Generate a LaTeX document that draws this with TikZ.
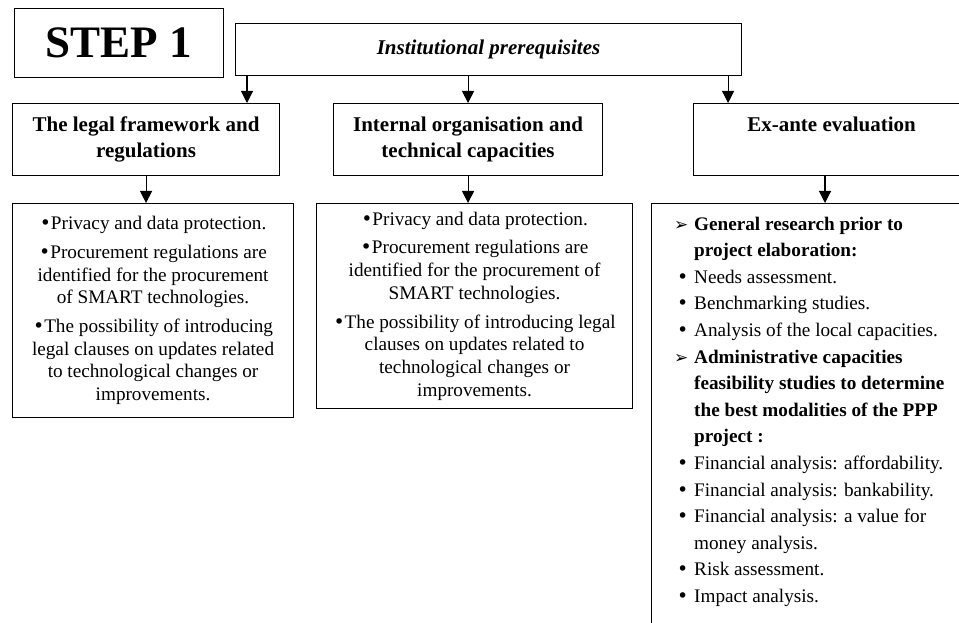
\documentclass[tikz,border=0pt]{standalone}
\usepackage{fontspec}
\setmainfont{Liberation Serif}
\newfontfamily\dingfont{DejaVu Sans}
\usetikzlibrary{arrows.meta}

% bullet and list markers
\newcommand\bul{{\dingfont\fontsize{19}{19}\selectfont •}}
\newcommand\exarrow{\makebox[19pt][l]{\hspace{-1pt}\smash{\raisebox{0pt}{\dingfont\fontsize{17}{17}\selectfont ➢}}}}
\newcommand\exdot{\makebox[19pt][l]{\hspace{2pt}\bul}}
\newcommand\exhang{\hspace*{19pt}}

\begin{document}
\begin{tikzpicture}[x=1pt,y=-1pt,
  box/.style={draw, line width=1.1pt, inner sep=0pt},
  head/.style={font=\fontsize{21}{26.7}\selectfont\bfseries, align=center},
  body/.style={font=\fontsize{19.2}{22.7}\selectfont, align=center},
  arr/.style={line width=1.1pt, -{Triangle[width=12pt,length=12pt]}},
]
\useasboundingbox (0,0) rectangle (959,623);

% title and root
\node[box, minimum width=209pt, minimum height=69pt, anchor=north west,
      font=\fontsize{45}{54}\selectfont\bfseries] (stepone) at (14,8) {STEP 1};
\node[box, minimum width=506pt, minimum height=52pt, anchor=north west,
      font=\fontsize{21}{26}\selectfont\bfseries\itshape] (inst) at (235,23) {Institutional prerequisites};

% second level
\node[box, head, minimum width=267pt, minimum height=72pt, anchor=north west] (legal) at (12,103)
  {The legal framework and\\regulations};
\node[box, head, minimum width=269pt, minimum height=72pt, anchor=north west] (intorg) at (333,103)
  {Internal organisation and\\technical capacities};
\node[box, head, minimum width=276pt, minimum height=72pt, anchor=north west] (exante) at (693,103)
  {Ex-ante evaluation\\\vphantom{g}};

% third level
\node[box, body, minimum width=281pt, minimum height=214pt, anchor=north west] (legaldet) at (12,203)
  {\bul Privacy and data protection.\\[6pt]
   \bul Procurement regulations are\\
   identified for the procurement\\
   of SMART technologies.\\[6pt]
   \bul The possibility of introducing\\
   legal clauses on updates related\\
   to technological changes or\\
   improvements.};
\node[box, body, minimum width=316pt, minimum height=205pt, anchor=north west] (intdet) at (316,203)
  {\bul Privacy and data protection.\\[6pt]
   \bul Procurement regulations are\\
   identified for the procurement of\\
   SMART technologies.\\[6pt]
   \bul The possibility of introducing legal\\
   clauses on updates related to\\
   technological changes or\\
   improvements.};
\node[box, minimum width=330pt, minimum height=440pt, anchor=north west] (exdet) at (651,203) {};
\node[anchor=north west, inner sep=0pt, align=left, font=\fontsize{19.2}{26.6}\selectfont]
  (exlist) at ([xshift=24pt,yshift=-13.5pt]exdet.north west)
  {\exarrow\textbf{General research prior to}\\
   \exhang\textbf{project elaboration:}\\
   \exdot Needs assessment.\\
   \exdot Benchmarking studies.\\
   \exdot Analysis of the local capacities.\\
   \exarrow\textbf{Administrative capacities}\\
   \exhang\textbf{feasibility studies to determine}\\
   \exhang\textbf{the best modalities of the PPP}\\
   \exhang\textbf{project :}\\
   \exdot Financial analysis: affordability.\\
   \exdot Financial analysis: bankability.\\
   \exdot Financial analysis: a value for\\
   \exhang money analysis.\\
   \exdot Risk assessment.\\
   \exdot Impact analysis.};

% connectors
\coordinate (a1) at ([xshift=12pt]inst.south west);
\draw[arr] (a1) -- (a1 |- legal.north);
\draw[arr] (intorg.north |- inst.south) -- (intorg.north);
\coordinate (a3) at ([xshift=-14pt]inst.south east);
\draw[arr] (a3) -- (a3 |- exante.north);
\draw[arr] (legal.south) -- (legal.south |- legaldet.north);
\draw[arr] (intorg.south) -- (intorg.south |- intdet.north);
\coordinate (a6) at ([xshift=132pt]exante.south west);
\draw[arr] (a6) -- (a6 |- exdet.north);
\end{tikzpicture}
\end{document}
